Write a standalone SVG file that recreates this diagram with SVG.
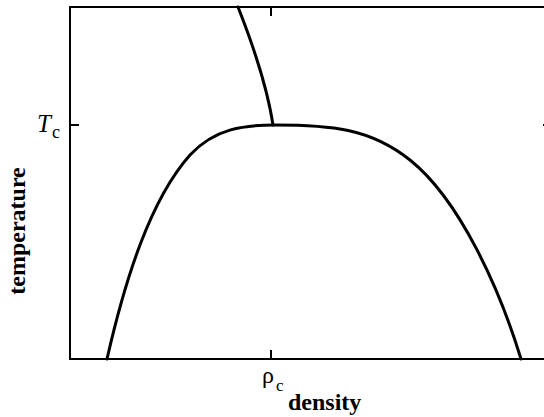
<svg xmlns="http://www.w3.org/2000/svg" width="544" height="417" viewBox="0 0 544 417">
<style>
.frame{fill:none;stroke:#000;stroke-width:2}
.curve{fill:none;stroke:#000;stroke-width:3;stroke-linecap:round}
text{font-family:'Liberation Serif','Times New Roman','DejaVu Serif',serif;fill:#000}
.ax{font-weight:bold;font-size:24px}
</style>
<rect fill="#fff" x="0" y="0" width="544" height="417"/>
<g id="frame">
<rect class="frame" x="70" y="7" width="482" height="352"/>
<line class="frame" x1="70" y1="125" x2="79" y2="125"/>
<line class="frame" x1="552" y1="125" x2="543" y2="125"/>
<line class="frame" x1="271" y1="7" x2="271" y2="16"/>
<line class="frame" x1="271" y1="359" x2="271" y2="350"/>
</g>
<g id="connectors">
<path class="curve" d="M107,359 C125,280 150,200 190,155 C215,128 245,125 275,125 C330,125 370,128 410,160 C460,200 500,290 521,359"/>
<path class="curve" d="M273,125 C268,92 255,50 238,7"/>
</g>
<g id="labels">
<text x="37" y="132" font-size="25" font-style="italic">T</text>
<text x="52" y="138" font-size="18">c</text>
<text x="262" y="383" font-size="24">ρ</text>
<text x="276" y="391" font-size="17">c</text>
<text class="ax" x="288" y="410">density</text>
<text class="ax" transform="translate(25,231) rotate(-90)" text-anchor="middle">temperature</text>
</g>
</svg>
